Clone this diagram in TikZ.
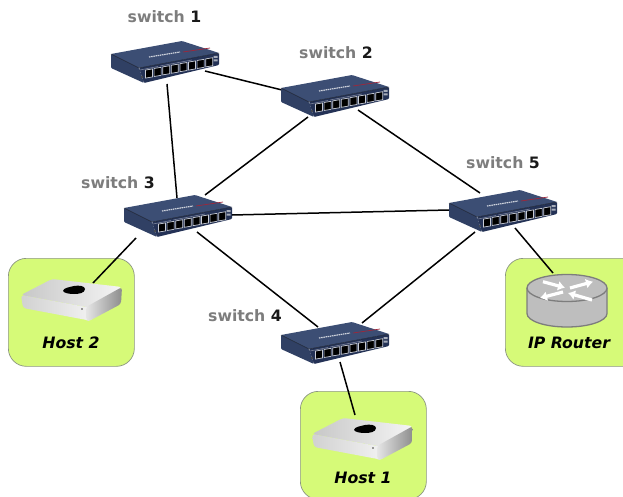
\documentclass[tikz,border=0pt]{standalone}
\usepackage{fontspec}
\setmainfont{DejaVu Sans}
\usetikzlibrary{arrows.meta}
\definecolor{boxgreen}{RGB}{214,250,120}
\definecolor{boxline}{RGB}{140,150,130}
\definecolor{swtop}{RGB}{60,78,116}
\definecolor{swfront}{RGB}{36,50,86}
\definecolor{swside}{RGB}{48,64,100}
\definecolor{labgray}{RGB}{125,125,125}
\definecolor{labdark}{RGB}{25,25,25}
\definecolor{rtfill}{RGB}{190,190,190}
\definecolor{rtline}{RGB}{125,125,125}
\tikzset{
  x=1pt,y=-1pt,
  link/.style={black,line width=1.5pt},
  hostbox/.style={draw=boxline,line width=.7pt,fill=boxgreen,rounded corners=18pt},
  anchorbox/.style={inner sep=0pt,minimum width=2pt,minimum height=2pt},
  swlabel/.style={inner sep=0pt,font=\fontsize{15.7}{18}\selectfont\bfseries,text=labgray},
  hostlabel/.style={inner sep=0pt,font=\fontsize{15.7}{18}\selectfont\bfseries\itshape,text=black},
  switchpic/.pic={
    \fill[swtop,rounded corners=1pt] (-55,-8) -- (16,-21) -- (53,-9) -- (-27,6) -- cycle;
    \fill[swside,rounded corners=1pt] (-55,-8) -- (-27,6) -- (-22,21) -- (-55,6) -- cycle;
    \fill[swfront,rounded corners=1pt] (-27,6) -- (53,-9) -- (53,3) -- (-22,21) -- cycle;
    \draw[black!55!swtop,line width=.5pt] (-55,-8) -- (-27,6) -- (53,-9);
    \draw[white!75!swtop,line width=1.2pt,dash pattern=on 1.5pt off .7pt] (-17,-5) -- (14,-10);
    \draw[red!50!swtop,line width=.7pt] (17,-10) -- (44,-14);
    \draw[white!40!swfront,line width=.6pt] (-26,8) -- (-8,4.5) (-6,4) -- (26,-2);
    \foreach \i in {0,...,7}{
      \pgfmathsetmacro\cx{-17+\i*8.6}
      \pgfmathsetmacro\cy{11.5-\i*1.6}
      \draw[fill=black,draw=white!75!swfront,line width=.7pt]
        (\cx-3.5,\cy-3.4) -- (\cx+3.5,\cy-4.6) -- (\cx+3.5,\cy+3.4) -- (\cx-3.5,\cy+4.6) -- cycle;
    }
    \fill[black!70] (-24,15) circle (1.1);
    \fill[white!60!swfront] (47.5,-6) rectangle (51.5,-4) (47.5,-2.5) rectangle (51.5,-.5);
  },
  macpic/.pic={
    \shade[rounded corners=3pt,left color=black!22,right color=black!4] (-51,-3) -- (-20,-19) -- (50,-11) -- (20,10) -- cycle;
    \shade[rounded corners=3pt,left color=black!18,right color=white!95!black] (-51,-3) -- (20,10) -- (20,23) -- (-49,10) -- cycle;
    \shade[rounded corners=3pt,left color=white!90!black,right color=black!45] (14,9) -- (50,-11) -- (49,6) -- (17,23) -- (14,22) -- cycle;
    \fill[black] (2,-12) .. controls (7,-13) and (13,-12) .. (13,-9)
       .. controls (13,-5) and (7,-4) .. (2,-4) .. controls (-3,-4) and (-8,-5) .. (-9,-7)
       .. controls (-9,-10) and (-2,-11) .. (2,-12) -- cycle;
    \fill[black!75] (10,11) circle (.9);
  },
  routerpic/.pic={
    \fill[rtfill] (-40,0) -- (-40,25.5) arc[start angle=180,delta angle=-180,x radius=40,y radius=13.5] -- (40,0) -- cycle;
    \draw[rtline,line width=1.3pt] (-40,0) -- (-40,25.5) arc[start angle=180,delta angle=-180,x radius=40,y radius=13.5] -- (40,0);
    \filldraw[fill=rtfill,draw=rtline,line width=1.3pt] (0,0) ellipse [x radius=40,y radius=13.5];
    \foreach \hx/\hy/\tx/\ty in {-2/-.3/-24/-6.3, 26/-6.3/3/0, -27/10/-4/4, 1/5/25/12}{
      \draw[white,line width=3.2pt,-{Latex[length=7pt,width=10pt]}] (\tx,\ty) -- (\hx,\hy);
    }
  },
}
\begin{document}
\begin{tikzpicture}
\useasboundingbox (0,0) rectangle (623,497);
% host areas
\begin{scope}
\clip (0,0) rectangle (623,497);
\node[hostbox,anchor=north west,inner sep=0pt,minimum width=126pt,minimum height=108pt] (hb2) at (8,258) {};
\node[hostbox,anchor=north west,inner sep=0pt,minimum width=126pt,minimum height=108pt] (hb1) at (300,391) {};
\node[hostbox,anchor=north west,inner sep=0pt,minimum width=140pt,minimum height=108pt] (hbr) at (505,258) {};
\end{scope}
% positions
\node[anchorbox] (s1) at (166,62) {};
\node[anchorbox] (s2) at (336,96) {};
\node[anchorbox] (s3) at (179,216) {};
\node[anchorbox] (s4) at (336,343) {};
\node[anchorbox] (s5) at (504,211) {};
\node[anchorbox] (h2) at (72,298) {};
\node[anchorbox] (h1) at (363,437) {};
\node[anchorbox] (rt) at (567,288) {};
% links
\draw[link] ([shift={(39,9)}]s1.center) -- ([shift={(-54,-6)}]s2.center);
\draw[link] ([shift={(1,22)}]s1.center) -- ([shift={(-2,-18)}]s3.center);
\draw[link] ([shift={(-28,21)}]s2.center) -- ([shift={(26,-21)}]s3.center);
\draw[link] ([shift={(22,14)}]s2.center) -- ([shift={(-24,-18)}]s5.center);
\draw[link] ([shift={(53,-1)}]s3.center) -- ([shift={(-55,-1)}]s5.center);
\draw[link] ([shift={(18,16)}]s3.center) -- ([shift={(-18,-16)}]s4.center);
\draw[link] ([shift={(-43,22)}]s3.center) -- ([shift={(21,-15)}]h2.center);
\draw[link] ([shift={(26,-20)}]s4.center) -- ([shift={(-29,21)}]s5.center);
\draw[link] ([shift={(4,19)}]s4.center) -- ([shift={(-8,-22)}]h1.center);
\draw[link] ([shift={(11,17)}]s5.center) -- ([shift={(-14,-15)}]rt.center);
% devices
\foreach \n in {s1,s2,s3,s4,s5} {\pic at (\n) {switchpic};}
\pic at (h2) {macpic};
\pic at (h1) {macpic};
\pic at (rt) {routerpic};
% labels
\node[swlabel] (l1) at (164.5,17) {switch \textcolor{labdark}{1}};
\node[swlabel] (l2) at (336,53) {switch \textcolor{labdark}{2}};
\node[swlabel] (l3) at (118,183) {switch \textcolor{labdark}{3}};
\node[swlabel] (l4) at (245,316) {switch \textcolor{labdark}{4}};
\node[swlabel] (l5) at (503,163) {switch \textcolor{labdark}{5}};
\node[hostlabel] (t2) at (71,343) {Host 2};
\node[hostlabel] (t1) at (363,478) {Host 1};
\node[hostlabel] (tr) at (569,343) {IP Router};
\end{tikzpicture}
\end{document}
